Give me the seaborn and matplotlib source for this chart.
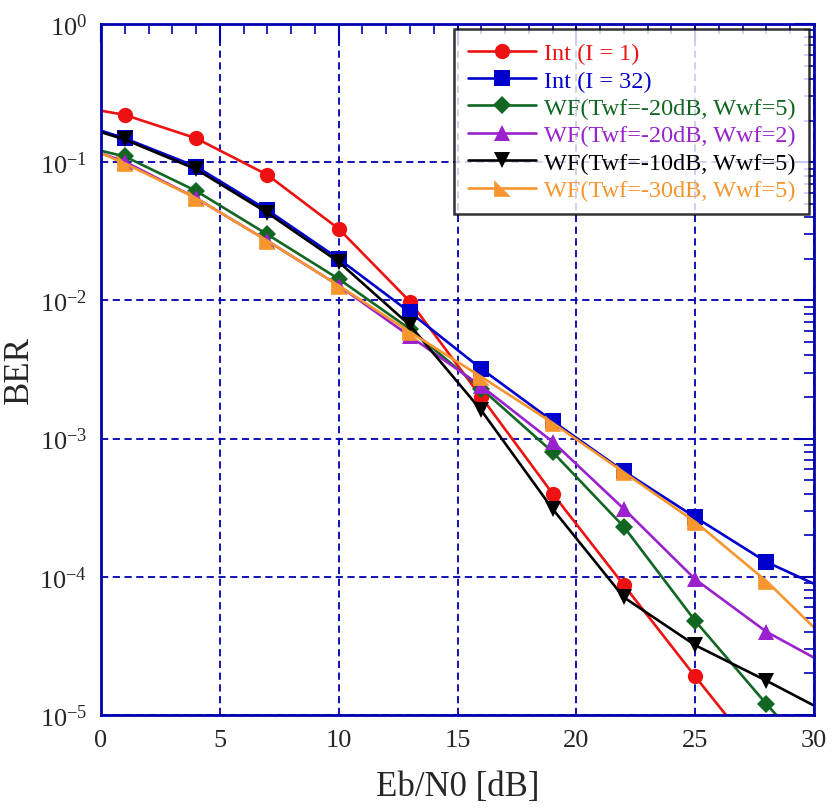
import numpy as np
import matplotlib
matplotlib.use('Agg')
import matplotlib.pyplot as plt
import matplotlib.ticker as mticker
import seaborn as sns

# Eb/N0 points: line endpoints at 0 and 30, markers at 1, 4, ..., 28
ebn0 = [0, 1, 4, 7, 10, 13, 16, 19, 22, 25, 28, 30]

ber_int1 = [0.236, 0.22, 0.149, 0.081, 0.033, 0.0098, 0.0020, 4.0e-4, 8.7e-5, 1.9e-5, 4.3e-6, 1.6e-6]
ber_int32 = [0.169, 0.149, 0.093, 0.045, 0.020, 0.0082, 0.0032, 1.34e-3, 5.8e-4, 2.7e-4, 1.28e-4, 8.9e-5]
ber_wf_20_5 = [0.121, 0.110, 0.062, 0.030, 0.0143, 0.0062, 0.0023, 8.0e-4, 2.3e-4, 4.8e-5, 1.2e-5, 5.0e-6]
ber_wf_20_2 = [0.116, 0.101, 0.055, 0.027, 0.0128, 0.0055, 0.0024, 9.5e-4, 3.1e-4, 9.6e-5, 4.0e-5, 2.6e-5]
ber_wf_10_5 = [0.165, 0.146, 0.089, 0.043, 0.019, 0.0066, 0.0016, 3.1e-4, 7.1e-5, 3.2e-5, 1.77e-5, 1.17e-5]
ber_wf_30_5 = [0.116, 0.098, 0.055, 0.027, 0.0128, 0.0059, 0.0028, 1.30e-3, 5.7e-4, 2.5e-4, 9.3e-5, 4.3e-5]

labels = ['Int (I = 1)', 'Int (I = 32)', 'WF(Twf=-20dB, Wwf=5)',
          'WF(Twf=-20dB, Wwf=2)', 'WF(Twf=-10dB, Wwf=5)', 'WF(Twf=-30dB, Wwf=5)']
colors = ['#ee1111', '#0000cc', '#116622', '#9922cc', '#000000', '#f7962f']

right_tri = [(-1, 1), (-1, -1), (1, -1), (-1, 1)]
markers = ['o', 's', 'D', '^', 'v', right_tri]
msizes = [11, 11, 9, 11, 11, 12]

sns.set_style('white')
plt.rcParams['font.family'] = ['Liberation Serif', 'DejaVu Serif']
plt.rcParams['mathtext.fontset'] = 'stix'

fig = plt.figure(figsize=(8.32, 8.12), dpi=100)
ax = fig.add_axes([0.1214, 0.1182, 0.8570, 0.8510])

axis_blue = '#0000b0'
series = [ber_int1, ber_int32, ber_wf_20_5, ber_wf_20_2, ber_wf_10_5, ber_wf_30_5]
mark_idx = list(range(1, len(ebn0) - 1))
for vals, lab, col, mk, ms in zip(series, labels, colors, markers, msizes):
    sns.lineplot(x=ebn0, y=vals, ax=ax, color=col, marker=mk, markersize=ms,
                 markeredgewidth=0, markevery=mark_idx, linewidth=1.9,
                 label=lab, sort=False)

ax.set_yscale('log')
ax.set_xlim(0, 30)
ax.set_ylim(1e-5, 1)

ax.xaxis.set_major_locator(mticker.MultipleLocator(5))
ax.xaxis.set_minor_locator(mticker.MultipleLocator(1))
ax.yaxis.set_major_locator(mticker.LogLocator(base=10, numticks=10))
ax.yaxis.set_minor_locator(mticker.LogLocator(base=10, subs=np.arange(2, 10), numticks=20))
ax.yaxis.set_minor_formatter(mticker.NullFormatter())
ax.yaxis.set_major_formatter(mticker.FuncFormatter(
    lambda v, p: r'$\mathregular{10^{%d}}$' % int(round(np.log10(v)))))

ax.tick_params(which='both', direction='in', top=True, right=True, color=axis_blue)
ax.tick_params(which='major', length=14, width=1.5, labelsize=19, pad=10)
ax.tick_params(which='minor', length=7, width=1.2)
for s in ax.spines.values():
    s.set_color(axis_blue)
    s.set_linewidth(2)

ax.grid(True, which='major', linestyle=(0, (4, 2.5)), color=axis_blue, linewidth=1.3)
ax.set_axisbelow(True)

ax.set_xlabel('Eb/N0 [dB]', fontsize=25, labelpad=14)
ax.set_ylabel('BER', fontsize=25, labelpad=2)

leg = ax.legend(loc='upper right', fontsize=17.5, frameon=True, fancybox=False,
                borderaxespad=0.2, handlelength=2.8, labelspacing=0.22,
                handletextpad=0.35, borderpad=0.55)
leg.get_frame().set_edgecolor('black')
leg.get_frame().set_linewidth(1.8)
for txt, col in zip(leg.get_texts(), colors):
    txt.set_color(col)

fig.savefig('out.png', dpi=100)
